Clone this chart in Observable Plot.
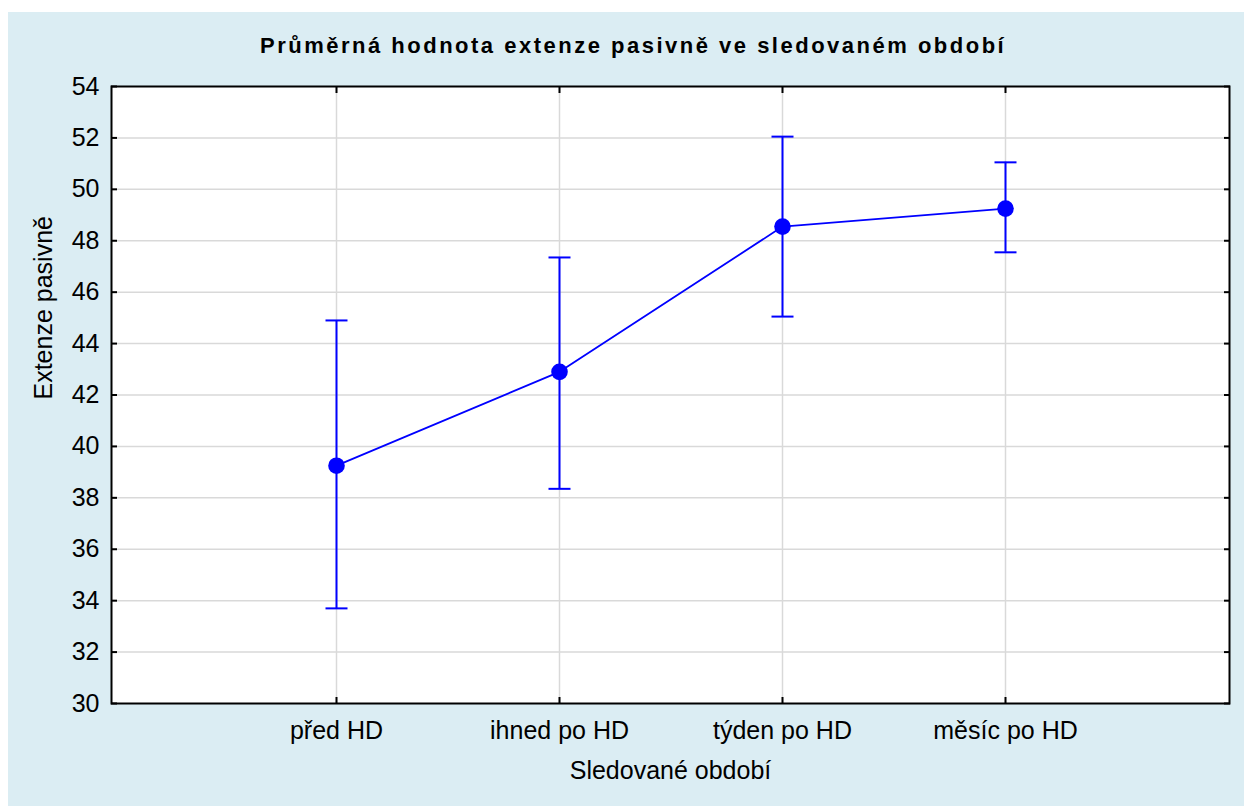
<!DOCTYPE html>
<html><head><meta charset="utf-8">
<script src="https://cdn.jsdelivr.net/npm/d3@7"></script>
<script src="https://cdn.jsdelivr.net/npm/@observablehq/plot@0.6"></script>
<style>
html,body{margin:0;padding:0;background:#fff;}
#panel{position:absolute;left:8px;top:12px;width:1236px;height:794px;background:#dbedf3;font-family:"Liberation Sans",Arial,sans-serif;overflow:hidden;}
#title{padding:24px 0 0 252px;font-size:22px;font-weight:bold;letter-spacing:2.5px;line-height:20px;white-space:nowrap;color:#000;height:20px;}
#chart svg{display:block;}
</style></head><body>
<div id="panel"><div id="title">Průměrná hodnota extenze pasivně ve sledovaném období</div><div id="chart"></div></div>
<script>
const periods = ["před HD", "ihned po HD", "týden po HD", "měsíc po HD"];
const means = [39.25, 42.9, 48.55, 49.25];
const lower = [33.7, 38.35, 45.05, 47.55];
const upper = [44.9, 47.35, 52.05, 51.05];
const yTicks = [30, 32, 34, 36, 38, 40, 42, 44, 46, 48, 50, 52, 54];
const xLabel = "Sledované období";
const yLabel = "Extenze pasivně";

const data = periods.map((p, i) => ({period: p, mean: means[i], lo: lower[i], hi: upper[i]}));
const capSymbol = {draw(ctx, size) { const w = Math.sqrt(size / Math.PI); ctx.moveTo(-w, 0); ctx.lineTo(w, 0); }};
const blue = "#0000ff";

const plot = Plot.plot({
  width: 1236, height: 750,
  marginTop: 30, marginBottom: 103, marginLeft: 103, marginRight: 15,
  style: {background: "transparent", fontFamily: "Liberation Sans, Arial, sans-serif", fontSize: "25px", color: "#000", overflow: "visible"},
  x: {type: "point", domain: periods, padding: 1, label: null},
  y: {domain: [30, 54], label: null},
  marks: [
    Plot.frame({fill: "white", stroke: null}),
    Plot.gridY(yTicks.slice(1, -1), {stroke: "#d9d9d9", strokeOpacity: 1, strokeWidth: 1.5}),
    Plot.gridX(periods, {stroke: "#d9d9d9", strokeOpacity: 1, strokeWidth: 1.5}),
    Plot.axisY(yTicks, {anchor: "left", tickSize: 0, tickPadding: 12, fontSize: 25, label: null}),
    Plot.axisY(yTicks, {anchor: "left", tickSize: 6, dx: 6, tickFormat: () => "", strokeWidth: 2, label: null}),
    Plot.axisY(yTicks, {anchor: "right", tickSize: 6, dx: -6, tickFormat: () => "", strokeWidth: 2, label: null}),
    Plot.axisX(periods, {anchor: "bottom", tickSize: 0, tickPadding: 18, fontSize: 25, label: null}),
    Plot.axisX(periods, {anchor: "bottom", tickSize: 6, dy: -6, tickFormat: () => "", strokeWidth: 2, label: null}),
    Plot.axisX(periods, {anchor: "top", tickSize: 6, dy: 6, tickFormat: () => "", strokeWidth: 2, label: null}),
    Plot.ruleX(data, {x: "period", y1: "lo", y2: "hi", stroke: blue, strokeWidth: 2}),
    Plot.dot(data, {x: "period", y: "hi", symbol: capSymbol, r: 11, stroke: blue, strokeWidth: 2, fill: "none"}),
    Plot.dot(data, {x: "period", y: "lo", symbol: capSymbol, r: 11, stroke: blue, strokeWidth: 2, fill: "none"}),
    Plot.line(data, {x: "period", y: "mean", stroke: blue, strokeWidth: 1.8}),
    Plot.dot(data, {x: "period", y: "mean", r: 8.3, fill: blue, stroke: null}),
    Plot.frame({stroke: "black", strokeWidth: 2}),
    Plot.text([xLabel], {text: d => d, frameAnchor: "bottom", dy: 75, fontSize: 25, fill: "#000"}),
    Plot.text([yLabel], {text: d => d, frameAnchor: "left", dx: -68, dy: 4.5, rotate: -90, fontSize: 25, fill: "#000"})
  ]
});
document.getElementById("chart").appendChild(plot);
</script>
</body></html>
